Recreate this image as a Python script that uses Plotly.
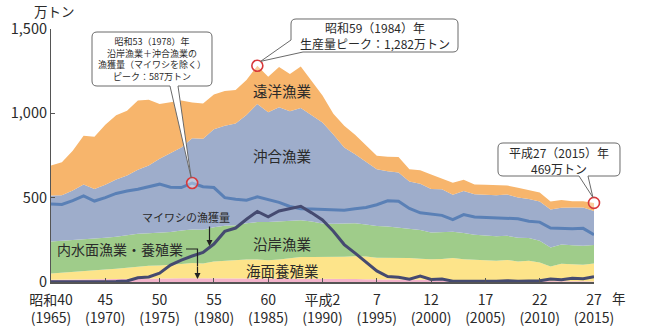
import plotly.graph_objects as go

years = list(range(1965, 2016))

# 万トン
inland = [13,14,15,16,17,19,19,20,21,21, 21,21,22,22,22,22,22,21,21,20,
          20,20,20,21,21,21,20,19,18,17, 17,16,15,14,13,12,11,10,10,9,
          8,8,7,7,6,5,5,4,4,4, 3]
aquaculture = [37,40,45,50,52,55,60,65,70,75, 77,80,85,90,88,99,104,108,112,113,
               109,114,120,127,127,127,126,131,134,134, 127,128,127,129,125,123,126,133,125,121,
               121,118,124,115,120,111,87,104,100,99, 107]
coastal = [190,190,192,190,188,189,190,192,195,193, 194,195,198,200,200,204,207,208,215,222,
           227,225,220,218,210,199,200,198,196,190, 188,185,180,175,170,158,158,155,155,150,
           147,145,143,141,135,129,112,115,114,112, 110]
offshore = [273,271,291,322,294,313,338,354,380,402, 438,467,492,541,540,581,593,602,642,701,
            650,677,652,666,633,599,529,450,409,371, 336,328,327,278,275,259,255,220,250,240,
            239,243,245,238,231,233,226,217,223,226, 201]
distant = [178,195,235,289,310,356,382,385,410,390, 325,303,279,211,209,206,206,200,207,226,
           211,238,221,246,200,159,123,129,116,98, 81,85,92,72,80,86,63,70,66,58,
           61,60,53,58,51,53,47,46,38,38, 48]
sardine = [1,1,1,2,2,2,3,6,25,30, 52,100,130,154,175,225,300,320,372,418,
           387,421,436,449,410,368,301,222,171,119, 66,32,28,17,35,15,18,5,5,5,
           3,5,8,4,6,7,18,14,22,20, 31]
coast_off_ex = [462,460,482,510,480,500,525,540,550,565, 580,562,560,587,565,560,500,490,485,505,
                490,472,448,435,433,430,428,426,434,442, 458,481,479,436,410,402,395,370,400,385,
                383,383,380,375,360,355,320,318,315,318, 280]

total = [a + b + c + d + e for a, b, c, d, e in zip(inland, aquaculture, coastal, offshore, distant)]

tick_years = [1965, 1970, 1975, 1980, 1985, 1990, 1995, 2000, 2005, 2010, 2015]
tick_era = ["昭和40", "45", "50", "55", "60", "平成2", "7", "12", "17", "22", "27"]
ytick_vals = [0, 500, 1000, 1500]
ytick_text = ["0", "500", "1,000", "1,500"]

FONT = "Noto Sans CJK JP"
W, H = 656, 333
X0, X1, Y0, Y1 = 51, 594, 282, 29  # plot-area pixel bounds


def px(x):
    return (x - X0) / (X1 - X0)


def py(y):
    return (Y0 - y) / (Y0 - Y1)


def yr_paper(yr):
    return (yr - years[0]) / (years[-1] - years[0])


def val_paper(v):
    return v / 1500


fig = go.Figure()
layers = [
    ("内水面漁業・養殖業", inland, "#f3b3cb"),
    ("海面養殖業", aquaculture, "#fde48a"),
    ("沿岸漁業", coastal, "#9fcc8a"),
    ("沖合漁業", offshore, "#9eadcb"),
    ("遠洋漁業", distant, "#f7b56c"),
]
for name, vals, col in layers:
    fig.add_trace(go.Scatter(x=years, y=vals, name=name, mode="lines",
                             stackgroup="one", line=dict(width=0, color=col),
                             fillcolor=col, hoverinfo="skip"))

fig.add_trace(go.Scatter(x=years, y=coast_off_ex, mode="lines",
                         line=dict(color="#5a80b6", width=3), hoverinfo="skip"))
fig.add_trace(go.Scatter(x=years, y=sardine, mode="lines",
                         line=dict(color="#454a70", width=3), hoverinfo="skip"))

i78 = years.index(1978)
i84 = years.index(1984)
i15 = years.index(2015)
fig.add_trace(go.Scatter(
    x=[1978, 1984, 2015], y=[coast_off_ex[i78], total[i84], total[i15]],
    mode="markers", cliponaxis=False,
    marker=dict(symbol="circle", size=11, color="rgba(255,255,255,0.35)",
                line=dict(color="#d8383a", width=1.6)),
    hoverinfo="skip"))


def P(x, y):
    return f"{px(x):.5f},{py(y):.5f}"


def bubble_bottom(l, t, r, b, ta, tb, tip, rad=5):
    tx, ty = tip
    return (f"M{P(l+rad,t)} L{P(r-rad,t)} Q{P(r,t)} {P(r,t+rad)} L{P(r,b-rad)} "
            f"Q{P(r,b)} {P(r-rad,b)} L{P(tb,b)} L{tx:.5f},{ty:.5f} L{P(ta,b)} "
            f"L{P(l+rad,b)} Q{P(l,b)} {P(l,b-rad)} L{P(l,t+rad)} Q{P(l,t)} {P(l+rad,t)} Z")


def bubble_corner(l, t, r, b, ly, bx, tip, rad=5):
    tx, ty = tip
    return (f"M{P(l+rad,t)} L{P(r-rad,t)} Q{P(r,t)} {P(r,t+rad)} L{P(r,b-rad)} "
            f"Q{P(r,b)} {P(r-rad,b)} L{P(bx,b)} L{tx:.5f},{ty:.5f} L{P(l,ly)} "
            f"L{P(l,t+rad)} Q{P(l,t)} {P(l+rad,t)} Z")


off = 5.5 / (Y0 - Y1)
tip1 = (yr_paper(1978) - 0.002, val_paper(coast_off_ex[i78]) + off)
tip2 = (yr_paper(1984) + 0.006, val_paper(total[i84]) + off * 0.8)
tip3 = (yr_paper(2015) - 0.002, val_paper(total[i15]) + off)

shape_style = dict(type="path", xref="paper", yref="paper",
                   fillcolor="white", line=dict(color="#6a6a6a", width=1), layer="above")
shapes = [
    dict(path=bubble_bottom(92, 32, 212, 86, 170, 178, tip1), **shape_style),
    dict(path=bubble_corner(291, 19, 458, 52, 40, 303, tip2), **shape_style),
    dict(path=bubble_bottom(498, 143, 620, 176, 579, 588, tip3), **shape_style),
    dict(type="path", xref="paper", yref="paper", layer="above",
         path=f"M{P(186,249)} L{P(197.5,249)} L{P(197.5,266)}",
         line=dict(color="#222", width=1.2)),
]

anns = []


def txt(x, y, text, size, color="#2a2a2a", xanchor="center"):
    anns.append(dict(x=px(x), y=py(y), xref="paper", yref="paper", text=text,
                     showarrow=False, xanchor=xanchor, yanchor="middle",
                     font=dict(family=FONT, size=size, color=color)))


txt(152, 59, "昭和53（1978）年<br>沿岸漁業＋沖合漁業の<br>漁獲量（マイワシを除く）<br>ピーク：587万トン", 9)
txt(375, 36, "昭和59（1984）年<br>生産量ピーク：1,282万トン", 12)
txt(559, 160, "平成27（2015）年<br>469万トン", 12)
txt(282, 90, "遠洋漁業", 14.5)
txt(282, 155, "沖合漁業", 14.5)
txt(282, 243, "沿岸漁業", 14.5)
txt(282, 270, "海面養殖業", 14.5)
txt(186, 217, "マイワシの漁獲量", 11)
txt(120, 249, "内水面漁業・養殖業", 14)
txt(54, 11, "万トン", 13.5)
txt(619, 298, "年", 13.5)

# arrows
anns.append(dict(x=px(209.5), y=py(246), xref="paper", yref="paper", text="",
                 showarrow=True, ax=0, ay=-21, arrowhead=2, arrowsize=1,
                 arrowwidth=1.2, arrowcolor="#222"))
anns.append(dict(x=px(197.5), y=py(279), xref="paper", yref="paper", text="",
                 showarrow=True, ax=0, ay=-14, arrowhead=2, arrowsize=1,
                 arrowwidth=1.2, arrowcolor="#222"))

fig.update_layout(
    width=W, height=H, margin=dict(l=X0, r=W - X1, t=Y1, b=H - Y0, autoexpand=False),
    paper_bgcolor="white", plot_bgcolor="white", showlegend=False,
    shapes=shapes, annotations=anns,
    font=dict(family=FONT, color="#2a2a2a"),
    xaxis=dict(range=[years[0], years[-1]], tickvals=tick_years,
               ticktext=[f"{e}<br>({y})" for e, y in zip(tick_era, tick_years)],
               tickangle=0, automargin=False, ticklabelstandoff=4,
               showgrid=False, zeroline=False, showline=True, linecolor="#555",
               linewidth=1.5, ticks="inside", ticklen=4, tickcolor="#555",
               tickfont=dict(family=FONT, size=14, color="#2a2a2a")),
    yaxis=dict(range=[0, 1500], tickvals=ytick_vals, ticktext=ytick_text,
               automargin=False,
               showgrid=False, zeroline=False, showline=True, linecolor="#555",
               linewidth=1.2, ticks="inside", ticklen=4, tickcolor="#555",
               tickfont=dict(family=FONT, size=14.5, color="#2a2a2a")),
)

fig.write_html("out.html")
